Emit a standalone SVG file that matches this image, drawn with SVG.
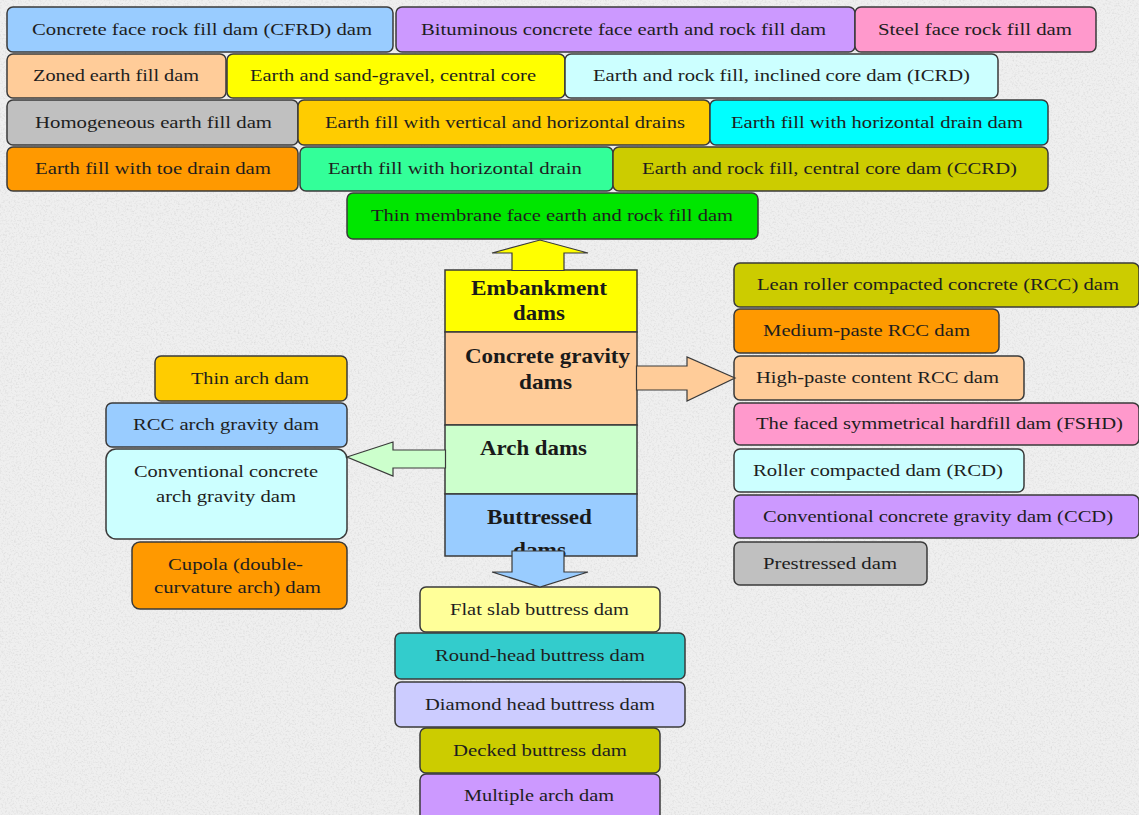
<svg xmlns="http://www.w3.org/2000/svg" width="1139" height="815" viewBox="0 0 1139 815">
<defs>
<filter id="grain" x="0" y="0" width="100%" height="100%">
<feTurbulence type="fractalNoise" baseFrequency="0.55" numOctaves="3" seed="7"/>
<feColorMatrix type="matrix" values="0 0 0 0 0.55  0 0 0 0 0.55  0 0 0 0 0.55  1.6 0 0 0 -0.75"/>
</filter>
<style>
.box{stroke:#3a3a3a;stroke-width:1.5}
.t{font-family:"Liberation Serif","Times New Roman",serif;font-size:17px;fill:#1e1e1e;text-anchor:middle}
.b{font-family:"Liberation Serif","Times New Roman",serif;font-size:22px;font-weight:bold;fill:#1a1a1a;text-anchor:middle}
.arr{stroke:#3a3a3a;stroke-width:1.2}
</style>
</defs>
<rect x="0" y="0" width="1139" height="815" fill="#efefef"/>
<rect x="0" y="0" width="1139" height="815" filter="url(#grain)" opacity="0.6"/>

<!-- Embankment sub-types -->
<g id="n-cfrd"><rect class="box" x="7" y="7" width="386" height="45" rx="6" fill="#99CCFF"/><text class="t" x="202" y="35" textLength="340" lengthAdjust="spacingAndGlyphs">Concrete face rock fill dam (CFRD) dam</text></g>
<g id="n-bitum"><rect class="box" x="396" y="7" width="459" height="45" rx="6" fill="#CC99FF"/><text class="t" x="623.5" y="35" textLength="405" lengthAdjust="spacingAndGlyphs">Bituminous concrete face earth and rock fill dam</text></g>
<g id="n-steel"><rect class="box" x="855" y="7" width="241" height="45" rx="6" fill="#FF99CC"/><text class="t" x="975" y="35" textLength="194" lengthAdjust="spacingAndGlyphs">Steel face rock fill dam</text></g>

<g id="n-zoned"><rect class="box" x="7" y="54" width="219" height="44" rx="6" fill="#FFCC99"/><text class="t" x="116" y="81" textLength="166" lengthAdjust="spacingAndGlyphs">Zoned earth fill dam</text></g>
<g id="n-sandgravel"><rect class="box" x="227" y="54" width="338" height="44" rx="6" fill="#FFFF00"/><text class="t" x="393" y="81" textLength="286" lengthAdjust="spacingAndGlyphs">Earth and sand-gravel, central core</text></g>
<g id="n-icrd"><rect class="box" x="565" y="54" width="433" height="44" rx="6" fill="#CCFFFF"/><text class="t" x="781.5" y="81" textLength="377" lengthAdjust="spacingAndGlyphs">Earth and rock fill, inclined core dam (ICRD)</text></g>

<g id="n-homog"><rect class="box" x="7" y="100" width="291" height="45" rx="6" fill="#C0C0C0"/><text class="t" x="153.5" y="128" textLength="237" lengthAdjust="spacingAndGlyphs">Homogeneous earth fill dam</text></g>
<g id="n-vertdrain"><rect class="box" x="298" y="100" width="412" height="45" rx="6" fill="#FFCC00"/><text class="t" x="505" y="128" textLength="360" lengthAdjust="spacingAndGlyphs">Earth fill with vertical and horizontal drains</text></g>
<g id="n-horizdam"><rect class="box" x="710" y="100" width="338" height="45" rx="6" fill="#00FFFF"/><text class="t" x="877" y="128" textLength="292" lengthAdjust="spacingAndGlyphs">Earth fill with horizontal drain dam</text></g>

<g id="n-toe"><rect class="box" x="7" y="147" width="291" height="44" rx="6" fill="#FF9900"/><text class="t" x="153" y="174" textLength="236" lengthAdjust="spacingAndGlyphs">Earth fill with toe drain dam</text></g>
<g id="n-horiz"><rect class="box" x="300" y="147" width="313" height="44" rx="6" fill="#33FF99"/><text class="t" x="455" y="174" textLength="254" lengthAdjust="spacingAndGlyphs">Earth fill with horizontal drain</text></g>
<g id="n-ccrd"><rect class="box" x="613" y="147" width="435" height="44" rx="6" fill="#CCCC00"/><text class="t" x="829.5" y="174" textLength="375" lengthAdjust="spacingAndGlyphs">Earth and rock fill, central core dam (CCRD)</text></g>

<g id="n-membrane"><rect class="box" x="347" y="193" width="411" height="46" rx="6" fill="#00E600"/><text class="t" x="552" y="221" textLength="362" lengthAdjust="spacingAndGlyphs">Thin membrane face earth and rock fill dam</text></g>

<!-- Concrete gravity sub-types -->
<g id="n-lean"><rect class="box" x="734" y="263" width="405" height="44" rx="6" fill="#CCCC00"/><text class="t" x="938" y="290" textLength="362" lengthAdjust="spacingAndGlyphs">Lean roller compacted concrete (RCC) dam</text></g>
<g id="n-medium"><rect class="box" x="734" y="309" width="265" height="44" rx="6" fill="#FF9900"/><text class="t" x="866.5" y="336" textLength="207" lengthAdjust="spacingAndGlyphs">Medium-paste RCC dam</text></g>
<g id="n-highpaste"><rect class="box" x="734" y="356" width="290" height="44" rx="6" fill="#FFCC99"/><text class="t" x="877.5" y="383" textLength="243" lengthAdjust="spacingAndGlyphs">High-paste content RCC dam</text></g>
<g id="n-fshd"><rect class="box" x="734" y="403" width="405" height="42" rx="6" fill="#FF99CC"/><text class="t" x="939.5" y="429" textLength="367" lengthAdjust="spacingAndGlyphs">The faced symmetrical hardfill dam (FSHD)</text></g>
<g id="n-rcd"><rect class="box" x="734" y="449" width="290" height="43" rx="6" fill="#CCFFFF"/><text class="t" x="878" y="476" textLength="250" lengthAdjust="spacingAndGlyphs">Roller compacted dam (RCD)</text></g>
<g id="n-ccd"><rect class="box" x="734" y="495" width="405" height="43" rx="6" fill="#CC99FF"/><text class="t" x="938" y="522" textLength="350" lengthAdjust="spacingAndGlyphs">Conventional concrete gravity dam (CCD)</text></g>
<g id="n-prestressed"><rect class="box" x="734" y="542" width="193" height="43" rx="6" fill="#C0C0C0"/><text class="t" x="830" y="569" textLength="134" lengthAdjust="spacingAndGlyphs">Prestressed dam</text></g>

<!-- Arch sub-types -->
<g id="n-thinarch"><rect class="box" x="155" y="356" width="192" height="45" rx="6" fill="#FFCC00"/><text class="t" x="250" y="384" textLength="118" lengthAdjust="spacingAndGlyphs">Thin arch dam</text></g>
<g id="n-rccarch"><rect class="box" x="106" y="403" width="241" height="44" rx="6" fill="#99CCFF"/><text class="t" x="226" y="430" textLength="186" lengthAdjust="spacingAndGlyphs">RCC arch gravity dam</text></g>
<g id="n-convarch"><rect class="box" x="106" y="449" width="241" height="90" rx="10" fill="#CCFFFF"/><text class="t" x="226" y="477" textLength="184" lengthAdjust="spacingAndGlyphs">Conventional concrete</text><text class="t" x="226" y="502" textLength="140" lengthAdjust="spacingAndGlyphs">arch gravity dam</text></g>
<g id="n-cupola"><rect class="box" x="132" y="542" width="215" height="67" rx="8" fill="#FF9900"/><text class="t" x="235.5" y="570" textLength="135" lengthAdjust="spacingAndGlyphs">Cupola (double-</text><text class="t" x="237.5" y="593" textLength="167" lengthAdjust="spacingAndGlyphs">curvature arch) dam</text></g>

<!-- Buttress sub-types -->
<g id="n-flatslab"><rect class="box" x="420" y="587" width="240" height="45" rx="6" fill="#FFFF99"/><text class="t" x="539.5" y="615" textLength="179" lengthAdjust="spacingAndGlyphs">Flat slab buttress dam</text></g>
<g id="n-roundhead"><rect class="box" x="395" y="633" width="290" height="46" rx="6" fill="#33CCCC"/><text class="t" x="540" y="661" textLength="210" lengthAdjust="spacingAndGlyphs">Round-head buttress dam</text></g>
<g id="n-diamond"><rect class="box" x="395" y="682" width="290" height="45" rx="6" fill="#CCCCFF"/><text class="t" x="540" y="710" textLength="230" lengthAdjust="spacingAndGlyphs">Diamond head buttress dam</text></g>
<g id="n-decked"><rect class="box" x="420" y="728" width="240" height="45" rx="6" fill="#CCCC00"/><text class="t" x="540" y="756" textLength="174" lengthAdjust="spacingAndGlyphs">Decked buttress dam</text></g>
<g id="n-multiarch"><rect class="box" x="420" y="774" width="240" height="50" rx="6" fill="#CC99FF"/><text class="t" x="539" y="801" textLength="150" lengthAdjust="spacingAndGlyphs">Multiple arch dam</text></g>

<!-- Central column -->
<g id="n-embankment"><rect class="box" x="445" y="270" width="192" height="62" fill="#FFFF00"/><text class="b" x="539" y="295" textLength="136" lengthAdjust="spacingAndGlyphs">Embankment</text><text class="b" x="539" y="320" textLength="52" lengthAdjust="spacingAndGlyphs">dams</text></g>
<g id="n-gravity"><rect class="box" x="445" y="332" width="192" height="93" fill="#FFCC99"/><text class="b" x="547.5" y="363" textLength="165" lengthAdjust="spacingAndGlyphs">Concrete gravity</text><text class="b" x="545.5" y="389" textLength="53" lengthAdjust="spacingAndGlyphs">dams</text></g>
<g id="n-arch"><rect class="box" x="445" y="425" width="192" height="69" fill="#CCFFCC"/><text class="b" x="533.5" y="455" textLength="107" lengthAdjust="spacingAndGlyphs">Arch dams</text></g>
<g id="n-buttressed"><rect class="box" x="445" y="494" width="192" height="62" fill="#99CCFF"/><text class="b" x="539.5" y="524" textLength="105" lengthAdjust="spacingAndGlyphs">Buttressed</text><text class="b" x="539.5" y="557" textLength="53" lengthAdjust="spacingAndGlyphs">dams</text></g>

<!-- Connectors (block arrows) -->
<g id="connectors">
<polygon class="arr" fill="#FFFF00" points="512,270.5 512,253 492,253 540,240 588,253 564,253 564,270.5"/>
<polygon class="arr" fill="#FFCC99" points="636.5,366 687,366 687,357 735,378 687,401 687,390 636.5,390"/>
<polygon class="arr" fill="#CCFFCC" points="445.5,450 393,450 393,442 347,457 393,476 393,468 445.5,468"/>
<polygon class="arr" fill="#99CCFF" points="512,551 564,551 564,572 588,572 540,587 492,572 512,572"/>
</g>
</svg>
